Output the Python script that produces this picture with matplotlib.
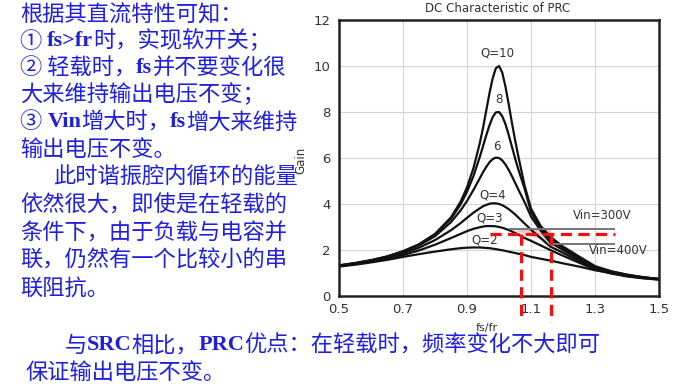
import matplotlib
matplotlib.use("Agg")
import matplotlib.pyplot as plt

# 读图得到的数据 (fs/fr, 增益)
fs = [0.5, 0.55, 0.6, 0.65, 0.7, 0.75, 0.8, 0.85, 0.88, 0.9, 0.92, 0.94, 0.95,
      0.96, 0.97, 0.98, 0.99, 1.0, 1.01, 1.02, 1.03, 1.04, 1.05, 1.06, 1.08,
      1.1, 1.13, 1.16, 1.2, 1.25, 1.3, 1.35, 1.4, 1.45, 1.5]

gain_q10 = [1.33, 1.43, 1.56, 1.72, 1.95, 2.25, 2.70, 3.42, 4.10, 4.72, 5.55, 6.65, 7.30,
            8.05, 8.80, 9.45, 9.90, 10.0, 9.72, 9.12, 8.36, 7.56, 6.80, 6.10, 4.80,
            3.80, 3.05, 2.58, 2.15, 1.72, 1.30, 1.08, 0.93, 0.82, 0.74]
gain_q8 = [1.33, 1.43, 1.55, 1.71, 1.93, 2.23, 2.68, 3.36, 3.98, 4.53, 5.21, 6.05, 6.51,
           6.98, 7.41, 7.77, 7.98, 8.0, 7.82, 7.48, 7.02, 6.51, 6.0, 5.52, 4.67,
           3.65, 2.95, 2.48, 2.08, 1.66, 1.27, 1.06, 0.92, 0.81, 0.74]
gain_q6 = [1.32, 1.42, 1.54, 1.70, 1.91, 2.20, 2.60, 3.21, 3.72, 4.13, 4.61, 5.12, 5.38,
           5.61, 5.81, 5.95, 6.02, 6.0, 5.90, 5.72, 5.49, 5.22, 4.93, 4.64, 4.08,
           3.45, 2.85, 2.33, 2.0, 1.60, 1.23, 1.04, 0.90, 0.80, 0.73]
gain_q4 = [1.31, 1.41, 1.52, 1.67, 1.85, 2.10, 2.43, 2.86, 3.17, 3.40, 3.62, 3.81, 3.90,
           3.96, 4.01, 4.03, 4.03, 4.0, 3.95, 3.87, 3.78, 3.67, 3.55, 3.42, 3.15,
           2.88, 2.52, 2.15, 1.88, 1.52, 1.18, 1.0, 0.87, 0.78, 0.72]
gain_q3 = [1.30, 1.39, 1.49, 1.62, 1.78, 1.98, 2.23, 2.52, 2.70, 2.82, 2.92, 2.99, 3.02,
           3.04, 3.04, 3.04, 3.03, 3.0, 2.97, 2.92, 2.87, 2.81, 2.74, 2.67, 2.52,
           2.40, 2.20, 2.0, 1.75, 1.45, 1.15, 0.98, 0.85, 0.77, 0.71]
gain_q2 = [1.28, 1.36, 1.46, 1.57, 1.70, 1.82, 1.93, 2.03, 2.08, 2.10, 2.11, 2.11, 2.10,
           2.09, 2.08, 2.06, 2.04, 2.01, 1.99, 1.96, 1.93, 1.90, 1.87, 1.84, 1.78,
           1.70, 1.62, 1.54, 1.42, 1.28, 1.12, 1.0, 0.90, 0.81, 0.74]

curves = [gain_q10, gain_q8, gain_q6, gain_q4, gain_q3, gain_q2]
curve_labels = ["Q=10", "8", "6", "Q=4", "Q=3", "Q=2"]
label_pos = [(0.995, 10.55), (0.999, 8.55), (0.992, 6.5), (0.98, 4.4), (0.97, 3.38), (0.955, 2.43)]

# 输入电压线和红色虚线
vin_300 = ([1.035, 1.36], [2.9, 2.9])
vin_400 = ([1.16, 1.36], [2.25, 2.25])
red_h = ([0.972, 1.362], [2.68, 2.68])
red_v1 = ([1.069, 1.069], [2.68, -1.05])
red_v2 = ([1.162, 1.162], [2.68, -1.12])
shade_x = [1.035, 1.162, 1.162]
shade_y = [2.9, 2.9, 2.3]

x_ticks = [0.5, 0.7, 0.9, 1.1, 1.3, 1.5]
y_ticks = [0, 2, 4, 6, 8, 10, 12]

W, H = 677, 391
fig = plt.figure(figsize=(W / 100, H / 100), dpi=100)
fig.patch.set_facecolor("white")

ax = fig.add_axes([339 / W, 1 - 296 / H, 320 / W, 276 / H])
for g in curves:
    ax.plot(fs, g, color="#111111", lw=1.6, solid_capstyle="round")
for s, (lx, ly) in zip(curve_labels, label_pos):
    ax.text(lx, ly, s, ha="center", va="center", fontsize=8.5, color="#333333")

ax.fill(shade_x, shade_y, color="#f2b3bb", alpha=0.8, lw=0, zorder=1)
ax.plot(*vin_300, color="#777777", lw=1.4)
ax.plot(*vin_400, color="#777777", lw=1.4)
ax.text(1.321, 3.48, "Vin=300V", ha="center", va="center", fontsize=8.5, color="#333333")
ax.text(1.373, 1.97, "Vin=400V", ha="center", va="center", fontsize=8.5, color="#333333")

for xs, ys in (red_h, red_v1, red_v2):
    ax.plot(xs, ys, color="#ee1111", lw=2.3, ls=(0, (3.5, 2)), clip_on=False, zorder=5)

ax.set_xlim(0.5, 1.5)
ax.set_ylim(0, 12)
ax.set_xticks(x_ticks)
ax.set_xticklabels([str(v) for v in x_ticks])
ax.set_yticks(y_ticks)
ax.tick_params(length=0, labelsize=9.5, labelcolor="#333333")
ax.tick_params(axis="x", pad=5)
ax.tick_params(axis="y", pad=6)
ax.grid(True, color="#d4d4d4", lw=0.8)
ax.set_axisbelow(True)
for sp in ax.spines.values():
    sp.set_color("#222222")
    sp.set_linewidth(1.8)

ax.text(0.497, 1.04, "DC Characteristic of PRC", transform=ax.transAxes,
        ha="center", va="center", fontsize=8.5, color="#333333")
ax.set_xlabel("fs/fr", fontsize=8, color="#333333")
ax.xaxis.set_label_coords(0.4625, -0.098)
ax.set_ylabel("Gain", fontsize=8.5, color="#333333")
ax.yaxis.set_label_coords(-0.1, 0.49)

# 左侧文字
blue = "#1f1fe0"
cjk = dict(family=["Noto Sans CJK SC", "DejaVu Sans"], fontsize=16)
lat = dict(family=["Liberation Serif", "Noto Sans CJK SC"], fontsize=16, weight="bold")

lines = [
    (20, 15, [("根据其直流特性可知：", cjk)]),
    (20, 41, [("① ", cjk), ("fs>fr", lat), ("时，实现软开关；", cjk)]),
    (20, 68, [("② 轻载时，", cjk), ("fs", lat), ("并不要变化很", cjk)]),
    (20, 95, [("大来维持输出电压不变；", cjk)]),
    (20, 122, [("③ ", cjk), ("Vin", lat), ("增大时，", cjk), ("fs", lat), ("增大来维持", cjk)]),
    (20, 149, [("输出电压不变。", cjk)]),
    (53, 177, [("此时谐振腔内循环的能量", cjk)]),
    (20, 205, [("依然很大，即使是在轻载的", cjk)]),
    (20, 233, [("条件下，由于负载与电容并", cjk)]),
    (20, 260, [("联，仍然有一个比较小的串", cjk)]),
    (20, 288, [("联阻抗。", cjk)]),
    (65, 345, [("与", cjk), ("SRC", lat), ("相比，", cjk), ("PRC", lat),
               ("优点：在轻载时，频率变化不大即可", cjk)]),
    (25, 372, [("保证输出电压不变。", cjk)]),
]

renderer = fig.canvas.get_renderer()
for x0, y0, runs in lines:
    x = x0
    for s, style in runs:
        t = fig.text(x / W, 1 - y0 / H, s, color=blue, va="center", ha="left", **style)
        x = t.get_window_extent(renderer).x1

fig.savefig("out.png", dpi=100)
